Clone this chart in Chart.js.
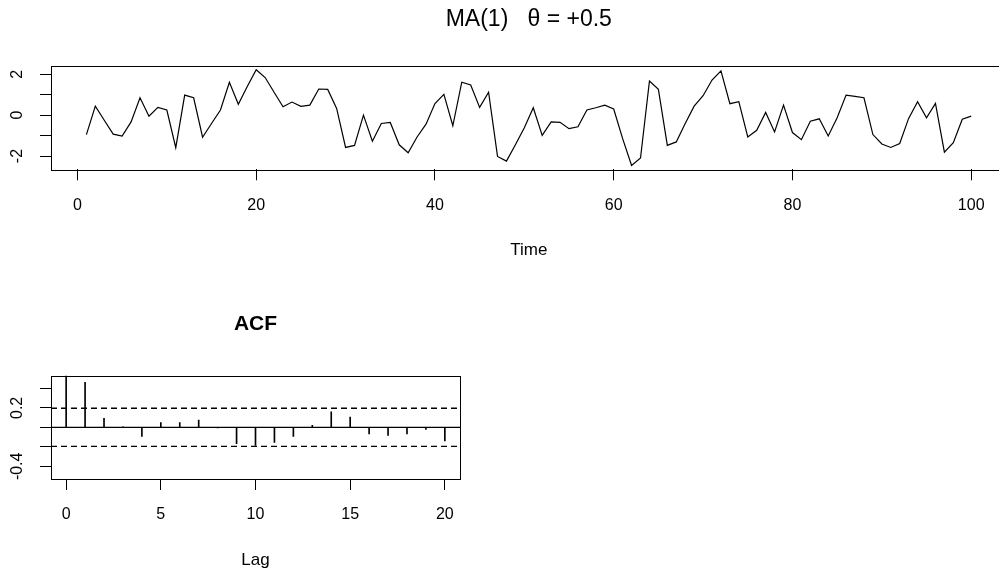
<!DOCTYPE html>
<html lang="en">
<head>
<meta charset="UTF-8">
<title>MA(1) series and ACF</title>
<script src="https://cdn.jsdelivr.net/npm/chart.js"></script>
<style>
    body {
        margin: 0;
        background: #fff;
        overflow: hidden;
        width: 999px;
        height: 572px;
        position: relative;
    }
    canvas { position: absolute; left: 0; }
    #ts { top: 0; }
    #acf { top: 290px; }
</style>
</head>
<body>
<canvas id="ts" width="1015" height="290"></canvas>
<canvas id="acf" width="999" height="282"></canvas>

<script>
    // simulated MA(1) series, t = 1..100
    const tsValues = [
        -0.95, 0.44, -0.25, -0.93, -1.02, -0.33, 0.85, -0.05, 0.38, 0.25,
        -1.59, 0.98, 0.85, -1.08, -0.41, 0.25, 1.61, 0.53, 1.40, 2.22,
        1.84, 1.12, 0.41, 0.64, 0.43, 0.49, 1.28, 1.26, 0.33, -1.58,
        -1.48, 0.00, -1.28, -0.41, -0.36, -1.45, -1.84, -1.07, -0.44, 0.57,
        1.02, -0.52, 1.61, 1.48, 0.38, 1.12, -2.02, -2.25, -1.45, -0.62,
        0.36, -0.99, -0.33, -0.35, -0.66, -0.57, 0.25, 0.36, 0.49, 0.30,
        -1.15, -2.46, -2.10, 1.67, 1.26, -1.48, -1.31, -0.41, 0.44, 0.95,
        1.72, 2.17, 0.56, 0.66, -1.07, -0.74, 0.13, -0.82, 0.49, -0.85,
        -1.20, -0.30, -0.18, -1.02, -0.13, 0.98, 0.92, 0.85, -0.95, -1.41,
        -1.58, -1.39, -0.16, 0.66, -0.13, 0.57, -1.81, -1.35, -0.20, -0.05
    ];
    const tsXRange = [-2.96, 103.96];
    const tsYRange = [-2.65, 2.42];
    const tsXTicks = [0, 20, 40, 60, 80, 100];
    const tsYTicks = [-2, -1, 0, 1, 2];
    const tsYLabeled = [-2, 0, 2];

    // sample autocorrelation
    const acfLags = [0, 1, 2, 3, 4, 5, 6, 7, 8, 9, 10, 11, 12, 13, 14, 15, 16, 17, 18, 19, 20];
    const acfValues = [1, 0.462, 0.092, 0.005, -0.092, 0.048, 0.048, 0.075, -0.005, -0.168,
        -0.185, -0.154, -0.092, 0.02, 0.16, 0.106, -0.068, -0.082, -0.068, -0.02, -0.14];
    const acfBounds = [0.196, -0.196];
    const acfXRange = [-0.8, 20.8];
    const acfYRange = [-0.53, 0.53];
    const acfXTicks = [0, 5, 10, 15, 20];
    const acfYTicks = [-0.4, -0.2, 0, 0.2, 0.4];
    const acfYLabeled = [-0.4, 0.2];

    Chart.defaults.font.family = '"Liberation Sans", Arial, sans-serif';
    Chart.defaults.color = '#000';

    // R draws a frame around the plot region
    const boxPlugin = {
        id: 'box',
        afterDatasetsDraw(chart) {
            const a = chart.chartArea;
            const ctx = chart.ctx;
            ctx.save();
            ctx.strokeStyle = '#000';
            ctx.lineWidth = 1;
            ctx.strokeRect(Math.round(a.left) + 0.5, Math.round(a.top) + 0.5,
                Math.round(a.right - a.left), Math.round(a.bottom - a.top));
            ctx.restore();
        }
    };

    function xAxis(range, ticks, title, height, titlePad) {
        return {
            type: 'linear', min: range[0], max: range[1], offset: false,
            afterBuildTicks: s => { s.ticks = ticks.map(v => ({ value: v })); },
            afterFit: s => { s.height = height; },
            grid: { drawOnChartArea: false, drawTicks: true, tickLength: 11, color: '#000', offset: false },
            border: { display: false },
            ticks: { autoSkip: false, maxRotation: 0, padding: 15.4, font: { size: 16 } },
            title: { display: true, text: title, font: { size: 17 }, padding: { top: 0, bottom: titlePad } }
        };
    }

    function yAxis(range, ticks, labeled, pad) {
        return {
            type: 'linear', min: range[0], max: range[1],
            afterBuildTicks: s => { s.ticks = ticks.map(v => ({ value: v })); },
            afterFit: s => { s.width = 51; },
            grid: { drawOnChartArea: false, drawTicks: true, tickLength: 11, color: '#000' },
            border: { display: false },
            ticks: {
                autoSkip: false, minRotation: 90, maxRotation: 90, crossAlign: 'center',
                padding: pad, font: { size: 16 },
                callback: v => labeled.includes(v) ? String(v) : ''
            }
        };
    }

    const common = {
        responsive: false,
        animation: false,
        events: [],
        devicePixelRatio: 1
    };

    new Chart(document.getElementById('ts'), {
        type: 'line',
        data: {
            datasets: [{
                data: tsValues.map((v, i) => ({ x: i + 1, y: v })),
                borderColor: '#000',
                borderWidth: 1.2,
                pointRadius: 0,
                tension: 0
            }]
        },
        options: {
            ...common,
            layout: { padding: { left: 0, right: 8.4, top: 0, bottom: 0 } },
            plugins: {
                legend: { display: false },
                tooltip: { enabled: false },
                title: {
                    display: true, text: 'MA(1)   θ = +0.5', fullSize: false,
                    font: { size: 23, weight: 'normal' },
                    padding: { top: 6.2, bottom: 31.9 }
                }
            },
            scales: {
                x: xAxis(tsXRange, tsXTicks, 'Time', 120.7, 29.8),
                y: yAxis(tsYRange, tsYTicks, tsYLabeled, 15.4)
            }
        },
        plugins: [boxPlugin]
    });

    const hline = (y, dash) => ({
        type: 'line',
        data: [{ x: acfXRange[0], y: y }, { x: acfXRange[1], y: y }],
        borderColor: '#000',
        borderWidth: 1.3,
        borderDash: dash,
        pointRadius: 0
    });

    new Chart(document.getElementById('acf'), {
        type: 'line',
        data: {
            datasets: [
                {
                    type: 'bar',
                    data: acfLags.map((lag, i) => ({ x: lag, y: acfValues[i] })),
                    backgroundColor: '#000',
                    barThickness: 1
                },
                hline(0, []),
                hline(acfBounds[0], [6, 4]),
                hline(acfBounds[1], [6, 4])
            ]
        },
        options: {
            ...common,
            layout: { padding: { left: 0, right: 539, top: 0, bottom: 0 } },
            plugins: {
                legend: { display: false },
                tooltip: { enabled: false },
                title: {
                    display: true, text: 'ACF', fullSize: false,
                    font: { size: 21, weight: 'bold' },
                    padding: { top: 21.4, bottom: 39.1 }
                }
            },
            scales: {
                x: xAxis(acfXRange, acfXTicks, 'Lag', 93, 1.8),
                y: yAxis(acfYRange, acfYTicks, acfYLabeled, 8.8)
            }
        },
        plugins: [boxPlugin]
    });
</script>
</body>
</html>
